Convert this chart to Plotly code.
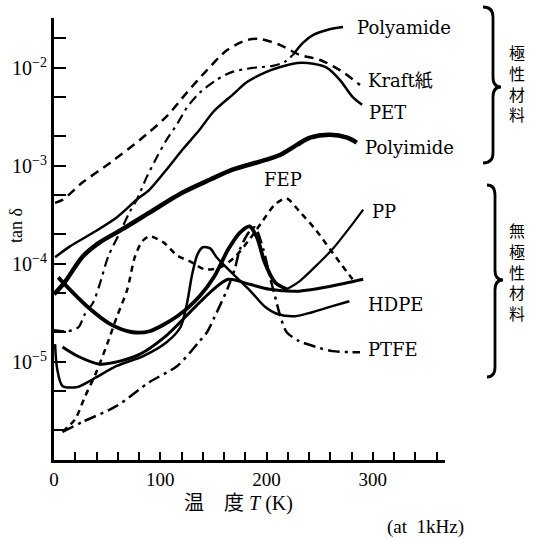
import math
import plotly.graph_objects as go

# ---------------- data ----------------
kraft_T = [1, 8, 27, 53, 81, 106, 125, 144, 163, 182, 194, 213, 231, 250, 269, 288]
kraft_tan = [4.2e-4, 4.5e-4, 6.8e-4, 1.08e-3, 1.85e-3, 3.2e-3, 5.6e-3, 9.5e-3, 1.52e-2,
             1.93e-2, 1.97e-2, 1.71e-2, 1.36e-2, 1.21e-2, 9.5e-3, 6.7e-3]

pet_T = [1, 15, 37, 59, 78, 90, 106, 121, 137, 150, 168, 182, 200, 213, 229, 244, 257, 269, 281, 290]
pet_tan = [1.17e-4, 1.51e-4, 2.09e-4, 2.98e-4, 4.54e-4, 5.74e-4, 9.2e-4, 1.47e-3, 2.34e-3, 3.57e-3,
           5.31e-3, 7.21e-3, 9.1e-3, 1.02e-2, 1.12e-2, 1.10e-2, 1.0e-2, 7.55e-3, 5.07e-3, 4.2e-3]

polyamide_T = [0, 13, 23, 29, 37, 43, 51, 62, 71, 78, 87, 97, 106, 116, 125, 137, 153, 168, 187, 206, 217, 225]
polyamide_tan = [2.11e-5, 2.06e-5, 2.26e-5, 3.07e-5, 4.07e-5, 6.19e-5, 1.19e-4, 2.09e-4, 3.35e-4, 4.54e-4,
                 7.6e-4, 1.24e-3, 1.85e-3, 2.69e-3, 3.92e-3, 5.57e-3, 7.55e-3, 9.1e-3, 1.0e-2, 1.05e-2,
                 1.15e-2, 1.36e-2]
polyamide_end_T = [225, 234, 244, 257, 272]
polyamide_end_tan = [1.36e-2, 1.79e-2, 2.17e-2, 2.44e-2, 2.61e-2]

polyimide_T = [0, 10, 27, 43, 64, 90, 121, 147, 168, 200, 213, 229, 241, 260, 276, 285]
polyimide_tan = [4.9e-5, 6.5e-5, 1.19e-4, 1.66e-4, 2.25e-4, 3.35e-4, 5.35e-4, 7.26e-4, 9.16e-4,
                 1.16e-3, 1.30e-3, 1.65e-3, 1.94e-3, 2.08e-3, 1.94e-3, 1.73e-3]

fep_T = [8, 20, 29, 39, 50, 59, 69, 76, 83, 90, 103, 116, 128, 142, 156, 170, 184, 196, 208, 219, 231, 246, 262, 281]
fep_tan = [1.94e-6, 2.62e-6, 4.4e-6, 7.5e-6, 1.52e-5, 2.86e-5, 5.5e-5, 1.17e-4, 1.70e-4, 1.91e-4,
           1.66e-4, 1.22e-4, 1.06e-4, 8.8e-5, 9.2e-5, 1.17e-4, 1.78e-4, 2.71e-4, 4.04e-4, 4.65e-4,
           3.43e-4, 2.25e-4, 1.31e-4, 6.97e-5]

ptfe_T = [8, 27, 59, 90, 116, 137, 144, 151, 163, 170, 175, 184, 189, 197, 203, 208, 213, 219, 231, 247, 262, 278, 288]
ptfe_tan = [1.94e-6, 2.45e-6, 3.56e-6, 6.25e-6, 9.1e-6, 1.63e-5, 2.01e-5, 2.86e-5, 5.5e-5, 8.8e-5,
            1.41e-4, 2.15e-4, 2.36e-4, 1.41e-4, 7.5e-5, 4.68e-5, 2.93e-5, 2.01e-5, 1.63e-5, 1.42e-5,
            1.29e-5, 1.26e-5, 1.26e-5]

pp_T = [4, 12, 31, 53, 74, 90, 116, 137, 151, 164, 175, 184, 191, 198, 208, 219]
pp_tan = [7.3e-5, 5.9e-5, 3.7e-5, 2.43e-5, 2.01e-5, 2.06e-5, 2.93e-5, 4.68e-5, 7.5e-5, 1.41e-4,
          2.09e-4, 2.42e-4, 1.87e-4, 1.06e-4, 6.5e-5, 5.52e-5]
pp_end_T = [219, 231, 248, 262, 277, 291]
pp_end_tan = [5.52e-5, 6.65e-5, 9.9e-5, 1.41e-4, 2.25e-4, 3.59e-4]

hdpe_a_T = [8, 22, 43, 62, 81, 104, 128, 147, 164, 184, 203, 227, 250, 274, 291]
hdpe_a_tan = [1.42e-5, 1.15e-5, 9.5e-6, 1.02e-5, 1.20e-5, 1.79e-5, 3.22e-5, 5.14e-5, 6.97e-5,
              6.2e-5, 5.52e-5, 5.26e-5, 5.65e-5, 6.35e-5, 6.97e-5]

hdpe_b_T = [1, 3, 8, 22, 37, 59, 84, 106, 119, 125, 130, 135, 140, 147, 153, 167, 186, 198, 211, 227, 243, 262, 278]
hdpe_b_tan = [1.52e-5, 8.5e-6, 5.7e-6, 5.56e-6, 6.7e-6, 9.1e-6, 1.15e-5, 1.59e-5, 2.26e-5, 3.88e-5,
              7.8e-5, 1.25e-4, 1.48e-4, 1.44e-4, 1.17e-4, 8.2e-5, 5.14e-5, 3.71e-5, 3.07e-5, 2.93e-5,
              3.22e-5, 3.71e-5, 4.17e-5]

x_tickvals = list(range(0, 361, 20))
x_ticktext = [str(v) if v % 100 == 0 else "" for v in x_tickvals]
y_tickvals = [2e-6, 5e-6, 1e-5, 2e-5, 5e-5, 1e-4, 2e-4, 5e-4, 1e-3, 2e-3, 5e-3, 1e-2, 2e-2]
y_ticktext = ["", "", "10<sup>−5</sup>", "", "", "10<sup>−4</sup>", "", "", "10<sup>−3</sup>",
              "", "", "10<sup>−2</sup>", ""]

curve_labels = ["Polyamide", "Kraft紙", "PET", "Polyimide", "FEP", "PP", "HDPE", "PTFE"]
label_T = [283, 294, 295, 291, 196, 297, 294, 294]
label_tan = [2.61e-2, 7.4e-3, 3.5e-3, 1.53e-3, 7.3e-4, 3.4e-4, 3.9e-5, 1.35e-5]

# ---------------- layout helpers ----------------
W, H = 533, 539
ML, MR, MT, MB = 54, 88, 18, 79
PW, PH = W - ML - MR, H - MT - MB


def pxx(x):
    return (x - ML) / PW


def pxy(y):
    return (H - MB - y) / PH


SERIF = "Liberation Serif, DejaVu Serif, serif"
LAB = "DejaVu Serif, Noto Sans CJK JP, serif"
CJK = "Liberation Serif, Noto Sans CJK JP, sans-serif"

fig = go.Figure()


def add(x, y, width, dash="solid"):
    fig.add_trace(go.Scatter(
        x=x, y=y, mode="lines", showlegend=False, hoverinfo="skip",
        line=dict(color="black", width=width, dash=dash, shape="spline", smoothing=0.8)))


add(kraft_T, kraft_tan, 2.5, "9px,6px")
add(pet_T, pet_tan, 2.5)
add(polyamide_T, polyamide_tan, 2.2, "10px,5px,3px,5px")
add(polyamide_end_T, polyamide_end_tan, 2.5)
add(polyimide_T, polyimide_tan, 4.5)
add(fep_T, fep_tan, 2.5, "6px,5px")
add(ptfe_T, ptfe_tan, 2.5, "12px,5px,3px,5px")
add(pp_T, pp_tan, 3.8)
add(pp_end_T, pp_end_tan, 2.2)
add(hdpe_a_T, hdpe_a_tan, 3.0)
add(hdpe_b_T, hdpe_b_tan, 2.5)

annotations = []
for txt, xv, yv in zip(curve_labels, label_T, label_tan):
    annotations.append(dict(x=xv, y=math.log10(yv), xref="x", yref="y", text=txt,
                            showarrow=False, xanchor="left", yanchor="middle",
                            font=dict(family=LAB, size=18, color="black")))


def note(text, x, y, family, size, angle=0):
    return dict(x=pxx(x), y=pxy(y), xref="paper", yref="paper", text=text, textangle=angle,
                showarrow=False, xanchor="center", yanchor="middle",
                font=dict(family=family, size=size, color="black"))


annotations += [
    note("tan δ", 16, 226, SERIF, 18, -90),
    note("温　度 <i>T</i> (K)", 238, 503, CJK, 20),
    note("(at  1kHz)", 425, 527, SERIF, 19),
    note("極<br>性<br>材<br>料", 517, 83, "Noto Sans CJK JP", 16),
    note("無<br>極<br>性<br>材<br>料", 517, 271, "Noto Sans CJK JP", 16),
]


def brace(x0, xv, xt, y0, ym, y1):
    pts = (f"M {pxx(x0)},{pxy(y0)} Q {pxx(xv)},{pxy(y0)} {pxx(xv)},{pxy(y0 + 10)} "
           f"L {pxx(xv)},{pxy(ym - 10)} Q {pxx(xv)},{pxy(ym)} {pxx(xt)},{pxy(ym)} "
           f"Q {pxx(xv)},{pxy(ym)} {pxx(xv)},{pxy(ym + 10)} "
           f"L {pxx(xv)},{pxy(y1 - 10)} Q {pxx(xv)},{pxy(y1)} {pxx(x0)},{pxy(y1)}")
    return dict(type="path", path=pts, xref="paper", yref="paper",
                line=dict(color="black", width=2.8))


shapes = [brace(483, 493, 501, 7, 87, 163), brace(487, 495, 503, 185, 280, 377)]

fig.update_layout(
    width=W, height=H, margin=dict(l=ML, r=MR, t=MT, b=MB),
    paper_bgcolor="white", plot_bgcolor="white",
    annotations=annotations, shapes=shapes,
    xaxis=dict(range=[0, 368], showgrid=False, zeroline=False, showline=True,
               linecolor="black", linewidth=3, ticks="inside", ticklen=8, tickwidth=2,
               tickcolor="black", tickvals=x_tickvals, ticktext=x_ticktext,
               tickfont=dict(family=SERIF, size=19, color="black")),
    yaxis=dict(type="log", range=[-6, -1.491], showgrid=False, zeroline=False, showline=True,
               linecolor="black", linewidth=3, ticks="inside", ticklen=12, tickwidth=2,
               tickcolor="black", tickvals=y_tickvals, ticktext=y_ticktext,
               tickfont=dict(family=SERIF, size=20, color="black")),
)

fig.write_html("out.html", config={"displayModeBar": False},
               post_script="document.body.style.margin='0px';document.body.style.overflow='hidden';")
